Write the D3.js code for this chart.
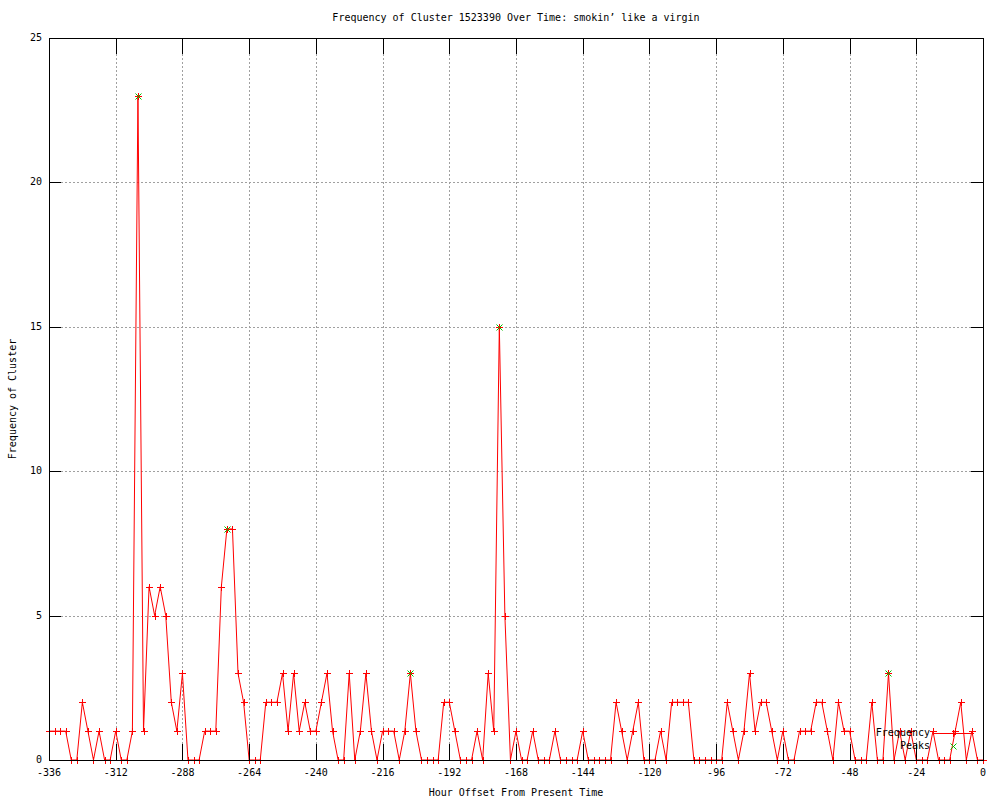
<!DOCTYPE html>
<html>
<head>
<meta charset="utf-8">
<script src="https://cdn.jsdelivr.net/npm/d3@7"></script>
<style>
  body { margin: 0; background: #fff; }
  svg text { font-family: 'DejaVu Sans Mono', monospace; font-size: 10px; fill: #000; }
</style>
</head>
<body>
<div class="content"></div>
<script>
var width = 1000
var height = 800

// frequency per 2-hour slot, starting at hour -336 and ending at 0
var counts = [
    1, 1, 1, 1, 0, 0, 2, 1, 0, 1,
    0, 0, 1, 0, 0, 1, 23, 1, 6, 5,
    6, 5, 2, 1, 3, 0, 0, 0, 1, 1,
    1, 6, 8, 8, 3, 2, 0, 0, 0, 2,
    2, 2, 3, 1, 3, 1, 2, 1, 1, 2,
    3, 1, 0, 0, 3, 0, 1, 3, 1, 0,
    1, 1, 1, 0, 1, 3, 1, 0, 0, 0,
    0, 2, 2, 1, 0, 0, 0, 1, 0, 3,
    1, 15, 5, 0, 1, 0, 0, 1, 0, 0,
    0, 1, 0, 0, 0, 0, 1, 0, 0, 0,
    0, 0, 2, 1, 0, 1, 2, 0, 0, 0,
    1, 0, 2, 2, 2, 2, 0, 0, 0, 0,
    0, 0, 2, 1, 0, 1, 3, 1, 2, 2,
    1, 0, 1, 0, 0, 1, 1, 1, 2, 2,
    1, 0, 2, 1, 1, 0, 0, 0, 2, 0,
    0, 3, 0, 1, 0, 1, 0, 0, 0, 1,
    0, 0, 0, 1, 2, 0, 1, 0, 0
]
var startHour = -336
var stepHours = 2

var peakHours = [-304, -272, -206, -174, -34]
var peakValues = [23, 8, 3, 15, 3]

var xTicks = [-336, -312, -288, -264, -240, -216, -192, -168, -144, -120, -96, -72, -48, -24, 0]
var yTicks = [0, 5, 10, 15, 20, 25]

var title = 'Frequency of Cluster 1523390 Over Time: smokin\u2019 like a virgin'
var xLabel = 'Hour Offset From Present Time'
var yLabel = 'Frequency of Cluster'

var freq = counts.map(function(c, i) {
    return { hour: startHour + i * stepHours, value: c }
})
var peaks = peakHours.map(function(h, i) {
    return { hour: h, value: peakValues[i] }
})

// plot box (gnuplot-ish margins)
var pl = 49, pr = 983, pt = 38, pb = 760

var x = d3.scaleLinear().domain([-336, 0]).range([pl, pr])
var y = d3.scaleLinear().domain([0, 25]).range([pb, pt])

var svg = d3.select('.content').append('svg')
    .attr('width', width)
    .attr('height', height)

// grid
var grid = svg.append('g')
    .attr('class', 'grid')
    .attr('stroke', '#a0a0a0')
    .attr('stroke-dasharray', '2,2')
    .attr('shape-rendering', 'crispEdges')
grid.selectAll('.gx')
    .data(xTicks.slice(1, -1))
    .enter().append('line')
    .attr('x1', function(d) { return Math.round(x(d)) + 0.5 })
    .attr('x2', function(d) { return Math.round(x(d)) + 0.5 })
    .attr('y1', pt)
    .attr('y2', pb)
grid.selectAll('.gy')
    .data(yTicks.slice(1, -1))
    .enter().append('line')
    .attr('x1', pl)
    .attr('x2', pr)
    .attr('y1', function(d) { return Math.round(y(d)) + 0.5 })
    .attr('y2', function(d) { return Math.round(y(d)) + 0.5 })

// frequency line
var line = d3.line()
    .x(function(d) { return x(d.hour) })
    .y(function(d) { return y(d.value) })

svg.append('path')
    .datum(freq)
    .attr('d', line)
    .attr('fill', 'none')
    .attr('stroke', '#ff0000')
    .attr('stroke-width', 1)

function plus(sel, cx, cy, r) {
    sel.append('path')
        .attr('d', 'M' + (cx - r) + ',' + cy + 'H' + (cx + r) + 'M' + cx + ',' + (cy - r) + 'V' + (cy + r))
}
function cross(sel, cx, cy, r) {
    sel.append('path')
        .attr('d', 'M' + (cx - r) + ',' + (cy - r) + 'L' + (cx + r) + ',' + (cy + r) +
            'M' + (cx - r) + ',' + (cy + r) + 'L' + (cx + r) + ',' + (cy - r))
}

var pts = svg.append('g')
    .attr('stroke', '#ff0000')
    .attr('fill', 'none')
    .attr('shape-rendering', 'crispEdges')
freq.forEach(function(d) {
    plus(pts, Math.round(x(d.hour)) + 0.5, Math.round(y(d.value)) + 0.5, 3.5)
})

var pk = svg.append('g')
    .attr('stroke', '#00c000')
    .attr('fill', 'none')
peaks.forEach(function(d) {
    cross(pk, Math.round(x(d.hour)) + 0.5, Math.round(y(d.value)) + 0.5, 3)
})

// border and ticks
var axes = svg.append('g')
    .attr('stroke', '#000')
    .attr('shape-rendering', 'crispEdges')
axes.append('rect')
    .attr('x', pl + 0.5)
    .attr('y', pt + 0.5)
    .attr('width', pr - pl)
    .attr('height', pb - pt)
    .attr('fill', 'none')

var vt = 16, ht = 12
xTicks.forEach(function(t) {
    var px = Math.round(x(t)) + 0.5
    axes.append('line').attr('x1', px).attr('x2', px).attr('y1', pb).attr('y2', pb - vt)
    axes.append('line').attr('x1', px).attr('x2', px).attr('y1', pt).attr('y2', pt + vt)
})
yTicks.forEach(function(t) {
    var py = Math.round(y(t)) + 0.5
    axes.append('line').attr('x1', pl).attr('x2', pl + ht).attr('y1', py).attr('y2', py)
    axes.append('line').attr('x1', pr).attr('x2', pr - ht).attr('y1', py).attr('y2', py)
})

// tick labels
svg.append('g').selectAll('text')
    .data(xTicks)
    .enter().append('text')
    .attr('x', function(d) { return x(d) })
    .attr('y', pb + 13)
    .attr('dominant-baseline', 'middle')
    .attr('text-anchor', 'middle')
    .text(function(d) { return d })

svg.append('g').selectAll('text')
    .data(yTicks)
    .enter().append('text')
    .attr('x', pl - 7)
    .attr('y', function(d) { return y(d) })
    .attr('dominant-baseline', 'middle')
    .attr('text-anchor', 'end')
    .text(function(d) { return d })

svg.append('text')
    .attr('x', (pl + pr) / 2)
    .attr('y', 18)
    .attr('dominant-baseline', 'middle')
    .attr('text-anchor', 'middle')
    .text(title)

svg.append('text')
    .attr('x', (pl + pr) / 2)
    .attr('y', 793)
    .attr('dominant-baseline', 'middle')
    .attr('text-anchor', 'middle')
    .text(xLabel)

svg.append('text')
    .attr('transform', 'translate(13,' + (pt + pb) / 2 + ') rotate(-90)')
    .attr('dominant-baseline', 'middle')
    .attr('text-anchor', 'middle')
    .text(yLabel)

// legend
var key = svg.append('g')
key.append('text')
    .attr('x', 930).attr('y', 733)
    .attr('dominant-baseline', 'middle')
    .attr('text-anchor', 'end')
    .text('Frequency')
key.append('text')
    .attr('x', 930).attr('y', 746)
    .attr('dominant-baseline', 'middle')
    .attr('text-anchor', 'end')
    .text('Peaks')
key.append('line')
    .attr('x1', 933).attr('x2', 974)
    .attr('y1', 733.5).attr('y2', 733.5)
    .attr('stroke', '#ff0000')
var kp = key.append('g').attr('stroke', '#ff0000').attr('shape-rendering', 'crispEdges')
plus(kp, 953.5, 733.5, 3.5)
var kx = key.append('g').attr('stroke', '#00c000')
cross(kx, 953.5, 746.5, 3)
</script>
</body>
</html>
